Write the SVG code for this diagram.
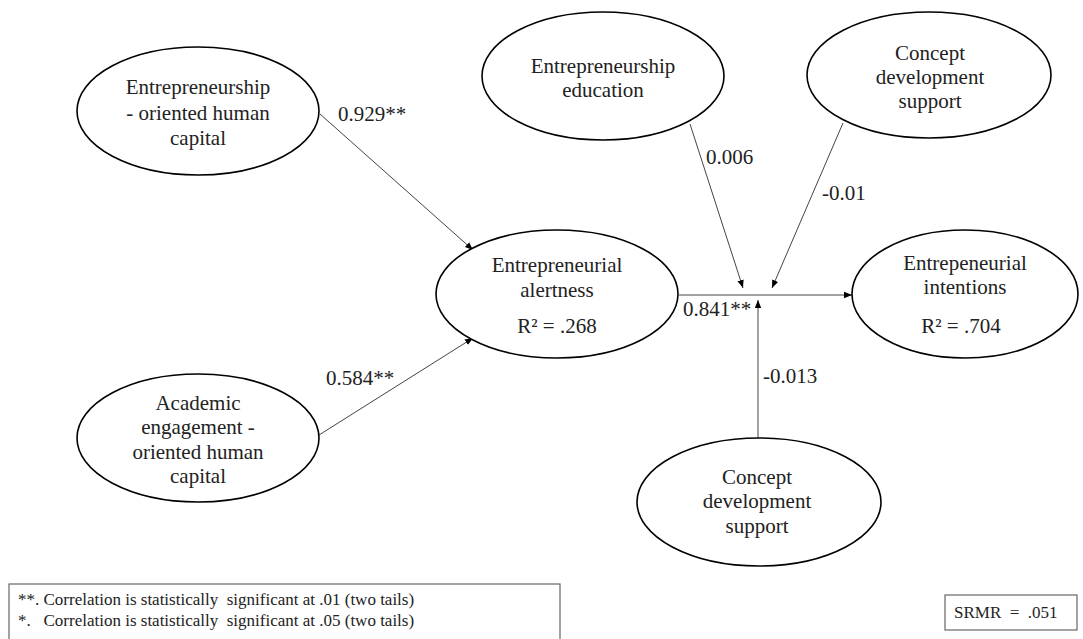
<svg xmlns="http://www.w3.org/2000/svg" width="1083" height="639" viewBox="0 0 1083 639">
  <style>
    .node ellipse { fill: #ffffff; stroke: #000000; stroke-width: 1.6; }
    .lbl { font-family: 'Liberation Serif', 'Times New Roman', serif; font-size: 21px; fill: #222222; text-anchor: middle; }
    .coef { font-family: 'Liberation Serif', 'Times New Roman', serif; font-size: 21px; fill: #222222; }
    .edge { stroke: #444444; stroke-width: 1; fill: none; marker-end: url(#arrow); }
    .note { font-family: 'Liberation Serif', 'Times New Roman', serif; font-size: 17px; fill: #222222; }
    .box { fill: #ffffff; stroke: #666666; stroke-width: 1.2; }
  </style>
  <defs>
    <marker id="arrow" viewBox="0 0 10 10" refX="10" refY="5" markerWidth="8" markerHeight="8" markerUnits="userSpaceOnUse" orient="auto">
      <path d="M0,1 L10,5 L0,9 z" fill="#000000"/>
    </marker>
  </defs>
  <rect width="1083" height="639" fill="#ffffff"/>

  <!-- paths between constructs -->
  <g id="connectors">
    <line class="edge" x1="320" y1="114" x2="473" y2="250"/>
    <line class="edge" x1="319" y1="435" x2="473" y2="338"/>
    <line class="edge" x1="679" y1="295" x2="852" y2="295"/>
    <line class="edge" x1="690" y1="124" x2="743" y2="288"/>
    <line class="edge" x1="843" y1="123" x2="772" y2="288"/>
    <line class="edge" x1="758" y1="438" x2="758" y2="300"/>
  </g>

  <!-- path coefficients -->
  <g id="coefficients">
    <text class="coef" x="338" y="121">0.929**</text>
    <text class="coef" x="326" y="385">0.584**</text>
    <text class="coef" x="706" y="164">0.006</text>
    <text class="coef" x="822" y="200">-0.01</text>
    <text class="coef" x="683" y="316">0.841**</text>
    <text class="coef" x="763" y="383">-0.013</text>
  </g>

  <g id="node-ehc" class="node">
    <ellipse cx="198" cy="111" rx="121" ry="64"/>
    <text class="lbl" x="198" y="94">Entrepreneurship</text>
    <text class="lbl" x="198" y="120">- oriented human</text>
    <text class="lbl" x="198" y="145">capital</text>
  </g>

  <g id="node-aehc" class="node">
    <ellipse cx="198" cy="438" rx="121" ry="64"/>
    <text class="lbl" x="198" y="410">Academic</text>
    <text class="lbl" x="198" y="434">engagement -</text>
    <text class="lbl" x="198" y="459">oriented human</text>
    <text class="lbl" x="198" y="483">capital</text>
  </g>

  <g id="node-ee" class="node">
    <ellipse cx="603" cy="76" rx="121" ry="64"/>
    <text class="lbl" x="603" y="73">Entrepreneurship</text>
    <text class="lbl" x="603" y="97">education</text>
  </g>

  <g id="node-cds-top" class="node">
    <ellipse cx="929" cy="75" rx="122" ry="63"/>
    <text class="lbl" x="930" y="60">Concept</text>
    <text class="lbl" x="930" y="84">development</text>
    <text class="lbl" x="930" y="108">support</text>
  </g>

  <g id="node-alert" class="node">
    <ellipse cx="557" cy="294" rx="121" ry="64"/>
    <text class="lbl" x="557" y="272">Entrepreneurial</text>
    <text class="lbl" x="557" y="297">alertness</text>
    <text class="lbl" x="557" y="333">R² = .268</text>
  </g>

  <g id="node-intent" class="node">
    <ellipse cx="965" cy="294" rx="113" ry="64"/>
    <text class="lbl" x="965" y="270">Entrepeneurial</text>
    <text class="lbl" x="965" y="294">intentions</text>
    <text class="lbl" x="961" y="333">R² = .704</text>
  </g>

  <g id="node-cds-bottom" class="node">
    <ellipse cx="759" cy="502" rx="122" ry="64"/>
    <text class="lbl" x="757" y="484">Concept</text>
    <text class="lbl" x="757" y="508">development</text>
    <text class="lbl" x="757" y="533">support</text>
  </g>

  <!-- significance legend and fit index -->
  <g id="legend">
    <rect class="box" x="9" y="584" width="551" height="60"/>
    <text class="note" x="18" y="605" xml:space="preserve">**. Correlation is statistically  significant at .01 (two tails)</text>
    <text class="note" x="18" y="626" xml:space="preserve">*.   Correlation is statistically  significant at .05 (two tails)</text>
  </g>
  <g id="fit">
    <rect class="box" x="945" y="595" width="132" height="35"/>
    <text class="note" x="954" y="618" xml:space="preserve">SRMR  =  .051</text>
  </g>
</svg>
